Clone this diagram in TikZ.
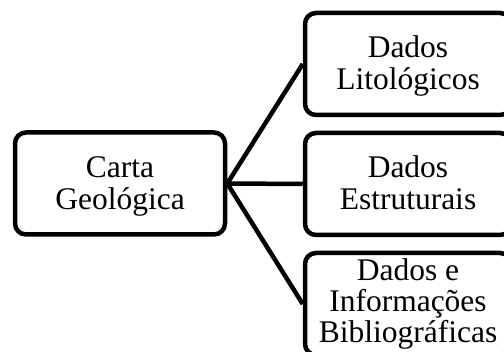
\documentclass[tikz,border=0pt]{standalone}
\usepackage{fontspec}
\setmainfont{Liberation Serif}
% invisible struts that fix where the text block sits inside a box
\newcommand\hstrut[1]{\rule{0pt}{#1}}
\newcommand\dstrut[1]{\rule[-#1]{0pt}{#1}}
\begin{document}
\begin{tikzpicture}[x=1pt,y=1pt,
  box/.style={draw=black, line width=4.5pt, rounded corners=11pt, fill=white,
    minimum height=102pt, align=center, inner sep=0pt,
    font=\fontsize{31.5}{32}\selectfont},
  link/.style={draw=black, line width=4.5pt}]
\useasboundingbox (0,0) rectangle (504,352);
\node[box, minimum width=210pt] (carta) at (120,168.5)
  {\hstrut{27pt}Carta\\Geológica\dstrut{7pt}};
\node[box, minimum width=206pt] (lito) at (408,288)
  {\hstrut{27pt}Dados\\Litológicos\dstrut{7pt}};
\node[box, minimum width=206pt] (estr) at (408,168)
  {\hstrut{27pt}Dados\\Estruturais\dstrut{7pt}};
\node[box, minimum width=206pt, font=\fontsize{31.5}{31}\selectfont] (biblio) at (408,48)
  {\hstrut{27pt}Dados e\\Informações\\Bibliográficas\dstrut{11pt}};
\coordinate (hub) at (carta.east);
\draw[link] (hub) -- (lito.west);
\draw[link] (hub) -- (estr.west);
\draw[link] (hub) -- (biblio.west);
\end{tikzpicture}
\end{document}
